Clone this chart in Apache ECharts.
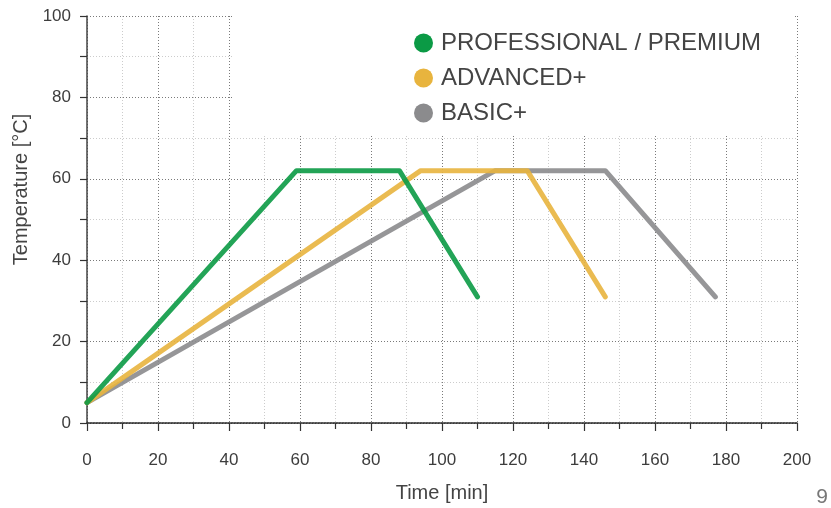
<!DOCTYPE html>
<html>
<head>
<meta charset="utf-8">
<script src="https://cdn.jsdelivr.net/npm/echarts@6/dist/echarts.min.js"></script>
<style>
  html, body { margin: 0; padding: 0; background: #ffffff; }
  #chart { width: 831px; height: 508px; }
</style>
</head>
<body>
<div id="chart"></div>
<script>
// ---- data ----
const seriesNames = ['PROFESSIONAL / PREMIUM', 'ADVANCED+', 'BASIC+'];
const proTime = [0, 59, 88, 110];
const proTemp = [5, 62, 62, 31];
const advTime = [0, 94, 124, 146];
const advTemp = [5, 62, 62, 31];
const basicTime = [0, 115, 146, 177];
const basicTemp = [5, 62, 62, 31];
const xTicks = [0, 20, 40, 60, 80, 100, 120, 140, 160, 180, 200];
const yTicks = [0, 20, 40, 60, 80, 100];
const colors = ['#0b9a45', '#e8b43e', '#8b8b8d'];

function pairs(xs, ys) { return xs.map((x, i) => [x, ys[i]]); }

const chart = echarts.init(document.getElementById('chart'), null, { renderer: 'canvas' });

const FONT = '"Liberation Sans", Arial, Helvetica, sans-serif';

function axisCommon(min, max, ticks) {
  return {
    type: 'value',
    min: min,
    max: max,
    interval: ticks[1] - ticks[0],
    axisLabel: {
      fontFamily: FONT,
      fontSize: 17,
      color: '#3d3d3d'
    },
    axisTick: { show: true, inside: false, length: 8, lineStyle: { color: '#333', width: 1.2 } },
    minorTick: { show: true, splitNumber: 2, length: 6, lineStyle: { color: '#333', width: 1.2 } },
    splitLine: { show: true, lineStyle: { color: '#7a7a7a', width: 1, type: [1, 2] } },
    minorSplitLine: { show: true, lineStyle: { color: '#cccccc', width: 1, type: [1, 2] } }
  };
}

const xAxis = Object.assign(axisCommon(0, 200, xTicks), {
  name: 'Time [min]',
  nameLocation: 'middle',
  nameGap: 60,
  nameTextStyle: { fontFamily: FONT, fontSize: 20, color: '#444' },
  axisLine: { show: true, onZero: false, lineStyle: { color: '#222', width: 1.5, type: [2, 1] } }
});
xAxis.axisLabel.margin = 29;

const yAxis = Object.assign(axisCommon(0, 100, yTicks), {
  name: 'Temperature [°C]',
  nameLocation: 'middle',
  nameGap: 54,
  nameTextStyle: { fontFamily: FONT, fontSize: 20, color: '#444', padding: [0, 0, 0, 60] },
  axisLine: { show: true, lineStyle: { color: '#444', width: 1.5 } }
});
yAxis.axisLabel.margin = 16;
yAxis.axisTick.length = 7;
yAxis.minorTick.length = 7;

const dataSets = [pairs(proTime, proTemp), pairs(advTime, advTemp), pairs(basicTime, basicTemp)];

const series = seriesNames.map((name, i) => ({
  name: name,
  type: 'line',
  data: dataSets[i],
  showSymbol: false,
  symbol: 'circle',
  z: 5 - i,
  lineStyle: { color: colors[i], width: 5, opacity: 0.9, join: 'round', cap: 'round' },
  itemStyle: { color: colors[i] },
  emphasis: { disabled: true },
  animation: false
}));

chart.setOption({
  animation: false,
  backgroundColor: '#ffffff',
  textStyle: { fontFamily: FONT },
  grid: { left: 87, right: 34, top: 16, bottom: 83, containLabel: false },
  legend: {
    orient: 'vertical',
    left: 232,
    top: 0,
    padding: [31, 33, 10, 182],
    backgroundColor: '#ffffff',
    itemGap: 11,
    itemWidth: 19,
    itemHeight: 19,
    icon: 'circle',
    data: seriesNames,
    textStyle: { fontFamily: FONT, fontSize: 24, color: '#444', padding: [0, 0, 0, 3] }
  },
  xAxis: xAxis,
  yAxis: yAxis,
  series: series,
  graphic: [{
    type: 'text',
    right: 3,
    bottom: 0,
    style: { text: '9', fontFamily: FONT, fontSize: 21, fill: '#777' }
  }]
});
</script>
</body>
</html>
